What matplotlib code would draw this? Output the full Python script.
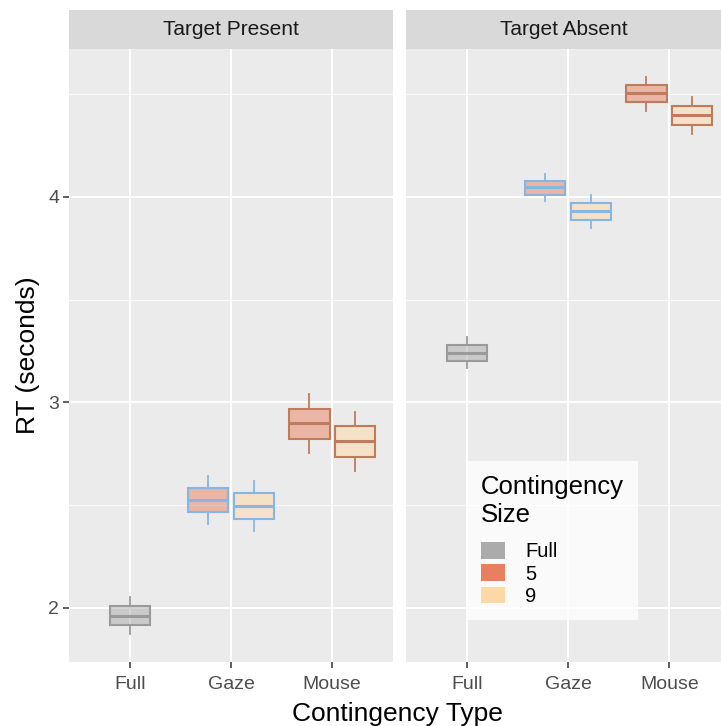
import matplotlib.pyplot as plt
from matplotlib.patches import Patch

# данные (секунды)
panels = ['Target Present', 'Target Absent']
types = ['Full', 'Gaze', 'Mouse']
sizes = ['Full', '5', '9']

# whisker_low, q1, median, q3, whisker_high
present_full = [1.872, 1.915, 1.963, 2.010, 2.052]
present_gaze5 = [2.410, 2.467, 2.527, 2.585, 2.640]
present_gaze9 = [2.373, 2.434, 2.496, 2.558, 2.618]
present_mouse5 = [2.755, 2.823, 2.900, 2.969, 3.039]
present_mouse9 = [2.668, 2.737, 2.812, 2.883, 2.953]

absent_full = [3.166, 3.200, 3.242, 3.281, 3.319]
absent_gaze5 = [3.979, 4.011, 4.047, 4.078, 4.110]
absent_gaze9 = [3.850, 3.888, 3.930, 3.972, 4.010]
absent_mouse5 = [4.420, 4.460, 4.506, 4.546, 4.584]
absent_mouse9 = [4.306, 4.350, 4.398, 4.444, 4.487]

boxes = {
    'Target Present': [('Full', 'Full', present_full),
                       ('Gaze', '5', present_gaze5),
                       ('Gaze', '9', present_gaze9),
                       ('Mouse', '5', present_mouse5),
                       ('Mouse', '9', present_mouse9)],
    'Target Absent': [('Full', 'Full', absent_full),
                      ('Gaze', '5', absent_gaze5),
                      ('Gaze', '9', absent_gaze9),
                      ('Mouse', '5', absent_mouse5),
                      ('Mouse', '9', absent_mouse9)],
}

fill_colors = {'Full': '#ABABAB', '5': '#E8805F', '9': '#FDD9A5'}
edge_colors = {'Full': '#9A9A9A', 'Gaze': '#86B6E6', 'Mouse': '#C07A5C'}
offsets = {'Full': 0.0, '5': -0.225, '9': 0.225}

plt.rcParams['font.family'] = ['Liberation Sans', 'DejaVu Sans']

fig = plt.figure(figsize=(7.21, 7.26), dpi=100)
W, H = 721, 726
bottom_px, top_px, strip_top = 662, 49, 10
lefts = [69, 406]
width_px = 324

axes = []
for i, name in enumerate(panels):
    ax = fig.add_axes([lefts[i] / W, 1 - bottom_px / H, width_px / W, (bottom_px - top_px) / H])
    ax.set_facecolor('#EBEBEB')
    for s in ax.spines.values():
        s.set_visible(False)
    ax.set_xlim(0.4, 3.6)
    ax.set_ylim(1.737, 4.72)
    ax.set_xticks([1, 2, 3])
    ax.set_xticklabels(types)
    ax.set_yticks([2, 3, 4])
    ax.set_yticks([2.5, 3.5, 4.5], minor=True)
    ax.grid(True, which='major', color='white', linewidth=1.4)
    ax.grid(True, which='minor', axis='y', color='white', linewidth=0.6)
    ax.tick_params(which='minor', length=0)
    ax.tick_params(which='major', length=4, width=1.1, color='#333333',
                   labelcolor='#4D4D4D', labelsize=14, pad=3)
    ax.tick_params(axis='x', pad=6)
    ax.set_axisbelow(True)

    for t, sz, st in boxes[name]:
        x = types.index(t) + 1 + offsets[sz]
        stats = [{'whislo': st[0], 'q1': st[1], 'med': st[2], 'q3': st[3],
                  'whishi': st[4], 'fliers': []}]
        ec = edge_colors[t]
        bp = ax.bxp(stats, positions=[x], widths=0.4, patch_artist=True,
                    showcaps=False, showfliers=False, manage_ticks=False,
                    boxprops=dict(facecolor=fill_colors[sz] + '80', edgecolor=ec, linewidth=1.5),
                    medianprops=dict(color=ec, linewidth=2.2),
                    whiskerprops=dict(color=ec, linewidth=1.3))

    if i == 1:
        ax.tick_params(axis='y', length=0, labelleft=False)

    # полоска с названием панели
    sax = fig.add_axes([lefts[i] / W, 1 - top_px / H, width_px / W, (top_px - strip_top) / H])
    sax.set_facecolor('#D9D9D9')
    sax.set_xticks([])
    sax.set_yticks([])
    for s in sax.spines.values():
        s.set_visible(False)
    sax.text(0.5 if i == 0 else 0.5 * (W - lefts[1]) / width_px, 0.5, name,
             transform=sax.transAxes, ha='center', va='center', fontsize=15, color='#1A1A1A')
    axes.append(ax)

axes[0].set_ylabel('RT (seconds)', fontsize=19, labelpad=6)
fig.text(397 / W, 0.0, 'Contingency Type', ha='center', va='bottom', fontsize=19)

handles = [Patch(facecolor=fill_colors[s], edgecolor='none') for s in sizes]
leg = axes[1].legend(handles, sizes, title='Contingency\nSize', loc='lower left',
                     bbox_to_anchor=((467 - 406) / width_px, (662 - 620) / (662 - 49)),
                     frameon=True, fancybox=False, fontsize=14.5, title_fontsize=18.5,
                     handlelength=1.2, handleheight=0.9, labelspacing=0.15,
                     borderpad=0.7, handletextpad=1.0, borderaxespad=0)
leg.get_frame().set_edgecolor('none')
leg.get_frame().set_facecolor('white')
leg._legend_box.align = 'left'
leg._legend_box.sep = 11

fig.savefig('out.png', dpi=100)
